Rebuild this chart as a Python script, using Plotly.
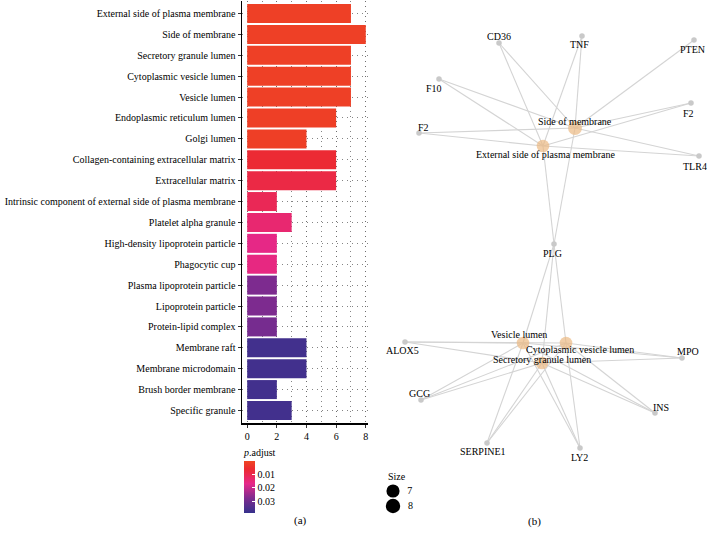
import plotly.graph_objects as go

# ---------------- data: GO cellular component enrichment ----------------
terms = [
    "External side of plasma membrane", "Side of membrane", "Secretory granule lumen",
    "Cytoplasmic vesicle lumen", "Vesicle lumen", "Endoplasmic reticulum lumen",
    "Golgi lumen", "Collagen-containing extracellular matrix", "Extracellular matrix",
    "Intrinsic component of external side of plasma membrane", "Platelet alpha granule",
    "High-density lipoprotein particle", "Phagocytic cup", "Plasma lipoprotein particle",
    "Lipoprotein particle", "Protein-lipid complex", "Membrane raft",
    "Membrane microdomain", "Brush border membrane", "Specific granule",
]
gene_counts = [7, 8, 7, 7, 7, 6, 4, 6, 6, 2, 3, 2, 2, 2, 2, 2, 4, 4, 2, 3]
p_adjust = [0.0012, 0.0012, 0.0012, 0.0012, 0.0012, 0.0014, 0.0016, 0.0065, 0.0088,
            0.0110, 0.0140, 0.0165, 0.0160, 0.0280, 0.0280, 0.0290, 0.0370, 0.0370,
            0.0370, 0.0370]
x_ticks = [0, 2, 4, 6, 8]
cbar_ticks = [0.01, 0.02, 0.03]
size_levels = [7, 8]

# ---------------- data: gene-concept network ----------------
node_ids = ["CD36", "TNF", "PTEN", "F10", "F2a", "F2b", "TLR4", "PLG",
            "ALOX5", "MPO", "GCG", "INS", "SERPINE1", "LY2",
            "Side of membrane", "External side of plasma membrane",
            "Vesicle lumen", "Cytoplasmic vesicle lumen", "Secretory granule lumen"]
node_labels = ["CD36", "TNF", "PTEN", "F10", "F2", "F2", "TLR4", "PLG",
               "ALOX5", "MPO", "GCG", "INS", "SERPINE1", "LY2",
               "Side of membrane", "External side of plasma membrane",
               "Vesicle lumen", "Cytoplasmic vesicle lumen", "Secretory granule lumen"]
# layout coordinates of the network (x to the right, y downward)
node_x = [499, 582, 694, 439, 691, 419, 699, 554,
          405, 682, 421, 655, 487, 580,
          575, 543, 523, 566, 542]
node_y = [43, 36, 40, 79, 103, 133, 156, 244,
          342, 358, 400, 413, 443, 448,
          128, 146, 343, 343, 363]
node_is_term = [False] * 14 + [True] * 5
term_size = {"Side of membrane": 8, "External side of plasma membrane": 7,
             "Vesicle lumen": 7, "Cytoplasmic vesicle lumen": 7,
             "Secretory granule lumen": 7}
edges = [
    ("CD36", "Side of membrane"), ("CD36", "External side of plasma membrane"),
    ("TNF", "Side of membrane"), ("TNF", "External side of plasma membrane"),
    ("PTEN", "Side of membrane"),
    ("F10", "Side of membrane"), ("F10", "External side of plasma membrane"),
    ("F2a", "Side of membrane"), ("F2a", "External side of plasma membrane"),
    ("F2b", "Side of membrane"), ("F2b", "External side of plasma membrane"),
    ("TLR4", "Side of membrane"), ("TLR4", "External side of plasma membrane"),
    ("PLG", "Side of membrane"), ("PLG", "External side of plasma membrane"),
]
for g in ["PLG", "ALOX5", "MPO", "GCG", "INS", "SERPINE1", "LY2"]:
    for t in ["Vesicle lumen", "Cytoplasmic vesicle lumen", "Secretory granule lumen"]:
        edges.append((g, t))

# ---------------- styles ----------------
FONT = "Liberation Serif"
TXT = "#000000"
W, H = 707, 549
label_offset = {  # (dx, dy) in layout units, y downward
    "CD36": (0, -7), "TNF": (-3, 8), "PTEN": (-2, 9), "F10": (-5, 9),
    "F2a": (-3, 10), "F2b": (4, -6), "TLR4": (-4, 10), "PLG": (-2, 9),
    "ALOX5": (-3, 8), "MPO": (6, -7), "GCG": (-2, -7), "INS": (6, -6),
    "SERPINE1": (-4, 8), "LY2": (-1, 9),
    "Side of membrane": (0, -7), "External side of plasma membrane": (2, 8),
    "Vesicle lumen": (-4, -9), "Cytoplasmic vesicle lumen": (14, 6),
    "Secretory granule lumen": (0, -4),
}
size_legend_x, size_legend_y0, size_legend_step = 393, 491, 15
GRID = dict(showgrid=True, gridcolor="#666", gridwidth=0.8, griddash="1px,4px")
NET_X0 = 370


def node_size(n):
    return 1.3 * n + 3.5


cmax_p = 0.039
stops_p = [(0.0, "#EF4623"), (0.006, "#EC2A30"), (0.011, "#EA2856"),
           (0.017, "#E6288A"), (0.028, "#7D2B8F"), (0.039, "#35318C")]
colorscale = sorted([(1 - p / cmax_p, c) for p, c in stops_p])

fig = go.Figure()

# bar chart (colour uses negated p so that small p sits at the top of the colourbar)
fig.add_trace(go.Bar(
    x=gene_counts, y=terms, orientation="h",
    marker=dict(
        color=[-p for p in p_adjust], cmin=-cmax_p, cmax=0, colorscale=colorscale,
        line=dict(width=0),
        colorbar=dict(
            title=dict(text="<i>p</i>.adjust", side="top", font=dict(family=FONT, size=10, color=TXT)),
            tickvals=[-v for v in cbar_ticks], ticktext=[f"{v:.2f}" for v in cbar_ticks],
            ticks="inside", tickcolor="white", ticklen=3, tickwidth=1,
            tickfont=dict(family=FONT, size=10, color=TXT),
            x=244 / W, xanchor="left", y=1 - 445 / H, yanchor="top",
            lenmode="pixels", len=68, thickness=11, outlinewidth=0,
            xpad=0, ypad=0,
        ),
    ),
    showlegend=False, hoverinfo="skip",
))

# network edges
pos = {n: (x, y) for n, x, y in zip(node_ids, node_x, node_y)}
ex, ey = [], []
for a, b in edges:
    ex += [pos[a][0], pos[b][0], None]
    ey += [pos[a][1], pos[b][1], None]
fig.add_trace(go.Scatter(x=ex, y=ey, mode="lines", xaxis="x2", yaxis="y2",
                         line=dict(color="#D4D4D4", width=1.1),
                         showlegend=False, hoverinfo="skip"))

gx = [x for x, t in zip(node_x, node_is_term) if not t]
gy = [y for y, t in zip(node_y, node_is_term) if not t]
fig.add_trace(go.Scatter(x=gx, y=gy, mode="markers", xaxis="x2", yaxis="y2",
                         marker=dict(color="#C9C9C9", size=5.5, line=dict(width=0)),
                         showlegend=False, hoverinfo="skip"))
tn = [n for n, t in zip(node_ids, node_is_term) if t]
fig.add_trace(go.Scatter(x=[pos[n][0] for n in tn], y=[pos[n][1] for n in tn],
                         mode="markers", xaxis="x2", yaxis="y2",
                         marker=dict(color="#EBB983", size=[node_size(term_size[n]) for n in tn],
                                     line=dict(width=0)),
                         showlegend=False, hoverinfo="skip"))

# size legend (drawn as keys in the network panel's space)
fig.add_trace(go.Scatter(
    x=[size_legend_x] * len(size_levels),
    y=[size_legend_y0 + i * size_legend_step for i in range(len(size_levels))],
    mode="markers+text", text=["  " + str(s) for s in size_levels], textposition="middle right",
    textfont=dict(family=FONT, size=10, color=TXT),
    marker=dict(color="#000000", opacity=1, size=[node_size(s) + 0.5 for s in size_levels],
                line=dict(width=0)),
    xaxis="x2", yaxis="y2", showlegend=False, hoverinfo="skip", cliponaxis=False,
))

annotations = []
for n, lab in zip(node_ids, node_labels):
    dx, dy = label_offset[n]
    annotations.append(dict(x=pos[n][0] + dx, y=pos[n][1] + dy, xref="x2", yref="y2",
                            text=lab, showarrow=False,
                            font=dict(family=FONT, size=10, color=TXT)))
annotations += [
    dict(x=size_legend_x - 7, y=size_legend_y0 - 15, xref="x2", yref="y2", text="Size",
         showarrow=False, xanchor="left", font=dict(family=FONT, size=10, color=TXT)),
    dict(x=300 / W, y=1 - 529 / H, xref="paper", yref="paper", text="(a)", showarrow=False,
         font=dict(family=FONT, size=11, color=TXT)),
    dict(x=543 / W, y=1 - 530 / H, xref="paper", yref="paper", text="(b)", showarrow=False,
         font=dict(family=FONT, size=11, color=TXT)),
]

fig.update_layout(
    template="none",
    width=W, height=H, margin=dict(l=0, r=0, t=0, b=0, autoexpand=False),
    paper_bgcolor="white", plot_bgcolor="rgba(0,0,0,0)",
    bargap=0.09, showlegend=False, hovermode=False, dragmode=False,
    font=dict(family=FONT, size=10, color=TXT),
    xaxis=dict(domain=[242 / W, 368 / W], range=[-0.35, 8.15], tickvals=x_ticks,
               showline=True, linecolor="black", linewidth=1.5, mirror=False,
               ticks="outside", ticklen=3, tickcolor="#333", zeroline=False,
               automargin=False, **GRID,
               minor=dict(dtick=1, showgrid=True, gridcolor="#666", gridwidth=0.8, griddash="1px,4px"),
               tickfont=dict(family=FONT, size=10, color=TXT)),
    yaxis=dict(domain=[1 - 423 / H, 1 - 1 / H], range=[19.6, -0.6],
               categoryorder="array", categoryarray=terms,
               showline=True, linecolor="black", linewidth=1.5, automargin=False,
               ticks="outside", ticklen=3, tickcolor="#333", zeroline=False, **GRID,
               tickfont=dict(family=FONT, size=10, color=TXT)),
    xaxis2=dict(domain=[NET_X0 / W, 1], range=[NET_X0, W], visible=False, anchor="y2",
                automargin=False),
    yaxis2=dict(domain=[0, 1], range=[H, 0], visible=False, anchor="x2",
                automargin=False),
    annotations=annotations,
)

fig.write_html("out.html", config={"displayModeBar": False, "staticPlot": True},
               post_script="document.body.style.margin='0';document.body.style.overflow='hidden';")
